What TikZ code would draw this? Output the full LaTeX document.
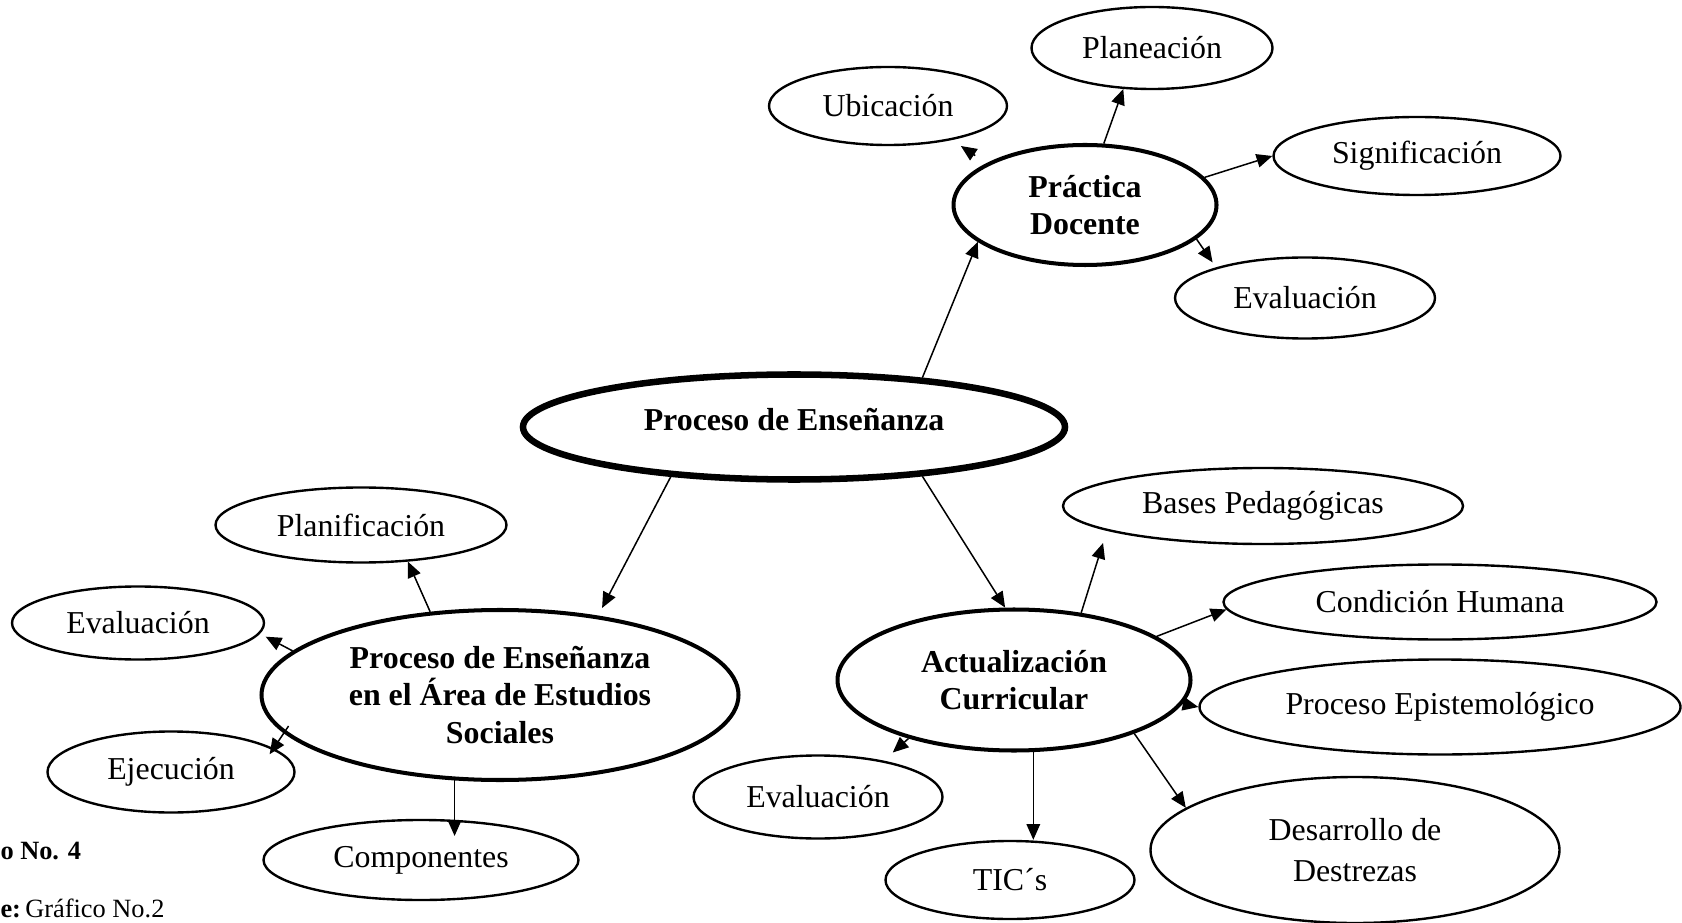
\documentclass[tikz,border=0pt]{standalone}
\usepackage{fontspec}
\setmainfont{Liberation Serif}
\usepackage{tikz}
\usetikzlibrary{shapes.geometric, arrows}
\usetikzlibrary{arrows.meta}
\usetikzlibrary{positioning}
\tikzstyle{idea} = [ellipse, draw=black, line width=0.95pt, inner sep=0pt, align=center, font=\fontsize{12.7}{14.8}\selectfont]
\tikzstyle{tema} = [idea, line width=1.6pt, font=\fontsize{12.7}{14.8}\selectfont\bfseries]
\tikzstyle{centro} = [tema, line width=2.6pt]
\tikzstyle{arrow} = [line width=0.6pt, -{Triangle[length=2.2mm, width=1.9mm]}]
\tikzstyle{pie} = [anchor=base west, inner sep=0pt, font=\fontsize{10.5}{12}\selectfont]

\begin{document}
\begin{tikzpicture}[on grid]
    \useasboundingbox (0,0) rectangle (23.548,-12.922);
    % centro
    \node (pe) [centro, minimum width=7.588cm, minimum height=1.47cm, text depth=0.2cm] at (11.116,-5.978) {Proceso de Enseñanza};
    % practica docente
    \node (pd) [tema, minimum width=3.682cm, minimum height=1.68cm, above right=3.108cm and 4.074cm of pe] {Práctica\\Docente};
    \node (pla) [idea, minimum width=3.374cm, minimum height=1.148cm, above right=2.198cm and 0.938cm of pd] {Planeación};
    \node (ubi) [idea, minimum width=3.332cm, minimum height=1.092cm, above left=1.386cm and 2.758cm of pd] {Ubicación};
    \node (sig) [idea, minimum width=4.018cm, minimum height=1.092cm, above right=0.686cm and 4.648cm of pd] {Significación};
    \node (evt) [idea, minimum width=3.64cm, minimum height=1.134cm, below right=1.302cm and 3.08cm of pd] {Evaluación};
    % area de estudios sociales
    \node (area) [tema, minimum width=6.678cm, minimum height=2.38cm, below left=3.752cm and 4.116cm of pe] {Proceso de Enseñanza\\en el Área de Estudios\\Sociales};
    \node (planif) [idea, minimum width=4.074cm, minimum height=1.05cm, above left=2.38cm and 1.946cm of area] {Planificación};
    \node (evl) [idea, minimum width=3.528cm, minimum height=1.022cm, above left=1.008cm and 5.068cm of area] {Evaluación};
    \node (eje) [idea, minimum width=3.458cm, minimum height=1.134cm, below left=1.078cm and 4.606cm of area] {Ejecución};
    \node (comp) [idea, minimum width=4.41cm, minimum height=1.12cm, below left=2.31cm and 1.106cm of area] {Componentes};
    % actualizacion curricular
    \node (act) [tema, minimum width=4.942cm, minimum height=1.974cm, below right=3.542cm and 3.08cm of pe] {Actualización\\Curricular};
    \node (bp) [idea, minimum width=5.6cm, minimum height=1.064cm, above right=2.436cm and 3.486cm of act] {Bases Pedagógicas};
    \node (ch) [idea, minimum width=6.062cm, minimum height=1.05cm, above right=1.092cm and 5.964cm of act] {Condición Humana};
    \node (pep) [idea, minimum width=6.734cm, minimum height=1.33cm, below right=0.378cm and 5.964cm of act] {Proceso Epistemológico};
    \node (evb) [idea, minimum width=3.486cm, minimum height=1.162cm, below left=1.638cm and 2.744cm of act] {Evaluación};
    \node (tic) [idea, minimum width=3.486cm, minimum height=1.092cm, below left=2.8cm and 0.056cm of act] {TIC´s};
    \node (dd) [idea, minimum width=5.726cm, minimum height=2.044cm, font=\fontsize{12.7}{16.5}\selectfont, below right=2.38cm and 4.774cm of act] {Desarrollo de\\Destrezas};
    % pie
    \node (fig) [pie] at (0,-12.026) {\textbf{o No. 4}};
    \node (src) [pie] at (0,-12.838) {\textbf{e:}\,Gráfico No.2};

    \draw [arrow] (pe.21) -- (pd.199);
    \draw [arrow] (pd.73) -- (pla.235);
    \draw [arrow, shorten <=0.19cm, shorten >=0.15cm] (pd.157) -- (ubi.332);
    \draw [arrow] (pd.13) -- (sig.west);
    \draw [arrow, shorten >=0.085cm] (pd.343) -- (evt.161);
    \draw [arrow, shorten >=0.12cm] (pe.202) -- (area.39);
    \draw [arrow] (pe.339) -- (act.97);
    \draw [arrow] (area.130) -- (planif.322);
    \draw [arrow, shorten >=0.09cm] (area.168) -- (evl.355);
    \draw [arrow, shorten <=-0.12cm, shorten >=-0.1cm] (area.190) -- (eje.13);
    \draw [arrow, shorten >=-0.24cm] (area.242) -- (area.242 |- comp.north);
    \draw [arrow, shorten >=0.18cm] (act.45) -- (bp.189);
    \draw [arrow] (act.17) -- (ch.182);
    \draw [arrow] (act.352) -- (pep.west);
    \draw [arrow] (act.336) -- (dd.166);
    \draw [arrow] (act.285) -- (act.285 |- tic.north);
    \draw [arrow, shorten >=0.17cm] (act.209) -- (evb.29);
\end{tikzpicture}
\end{document}
